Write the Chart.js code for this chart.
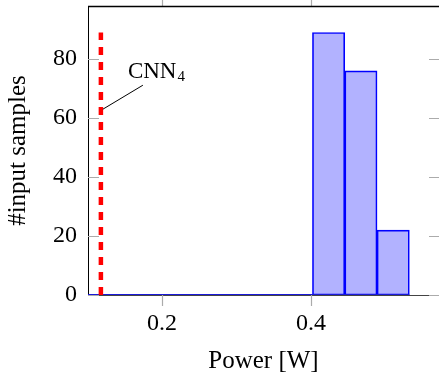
<!DOCTYPE html>
<html>
<head>
<meta charset="utf-8">
<script src="https://cdn.jsdelivr.net/npm/chart.js@4/dist/chart.umd.min.js"></script>
<style>
  html, body { margin: 0; padding: 0; background: #fff; overflow: hidden; }
  canvas { display: block; }
</style>
</head>
<body>
<canvas id="chart" width="439" height="382"></canvas>
<script>
// Histogram of per-sample power, with the CNN_4 reference marked as a dashed line.
const binCenters   = [0.120175, 0.163525, 0.206875, 0.250225, 0.293575, 0.336925, 0.380275, 0.423625, 0.466975, 0.510325];
const sampleCounts = [0, 0, 0, 0, 0, 0, 0, 89, 76, 22];
const binRange     = [0.0985, 0.532];   // first / last bin edge

const cnnPower     = 0.118;   // W
const cnnMarkerTop = 89;      // height of the dashed marker
const cnnPinAt     = 63;      // where the label pin touches the marker
const cnnLabel     = ['CNN', '4'];

const xTickValues = [0.2, 0.4];
const yTickValues = [0, 20, 40, 60, 80];
const xRange = [0.1007, 0.5718];
const yRange = [0, 98];

const SERIF = '"Liberation Serif", "Times New Roman", serif';
const TICK_GREY = '#ababab';

// pgfplots-like frame: top line plus short ticks on all sides
const frameTicks = {
  id: 'frameTicks',
  beforeDatasetsDraw(chart) {
    const { ctx, chartArea: a, scales: { x, y } } = chart;
    ctx.save();
    ctx.lineWidth = 1.2;
    ctx.strokeStyle = TICK_GREY;
    ctx.beginPath();
    y.ticks.forEach(t => {
      const py = Math.round(y.getPixelForValue(t.value)) + 0.5;
      ctx.moveTo(a.left, py);  ctx.lineTo(a.left + 11, py);
      ctx.moveTo(a.right - 10, py); ctx.lineTo(a.right + 2, py);
    });
    x.ticks.forEach(t => {
      const px = Math.round(x.getPixelForValue(t.value)) + 0.5;
      ctx.moveTo(px, a.bottom); ctx.lineTo(px, a.bottom + 11);
      ctx.moveTo(px, a.top);    ctx.lineTo(px, a.top - 10);
    });
    ctx.stroke();

    ctx.strokeStyle = '#000';
    ctx.lineWidth = 1.3;
    ctx.beginPath();
    ctx.moveTo(a.left, Math.round(a.top) + 0.5);
    ctx.lineTo(a.right + 2, Math.round(a.top) + 0.5);
    ctx.stroke();
    ctx.restore();
  },
};

// pin + label next to the dashed CNN marker
const cnnPin = {
  id: 'cnnPin',
  afterDatasetsDraw(chart) {
    const { ctx, scales: { x, y } } = chart;
    const px = x.getPixelForValue(cnnPower) + 2;
    const py = y.getPixelForValue(cnnPinAt);
    const ex = px + 40, ey = py - 24;
    ctx.save();
    ctx.strokeStyle = '#000';
    ctx.lineWidth = 1;
    ctx.beginPath();
    ctx.moveTo(px, py);
    ctx.lineTo(ex, ey);
    ctx.stroke();

    ctx.fillStyle = '#000';
    ctx.textBaseline = 'alphabetic';
    ctx.textAlign = 'left';
    ctx.font = '23px ' + SERIF;
    const tx = ex - 15, ty = ey - 7;
    ctx.fillText(cnnLabel[0], tx, ty);
    const w = ctx.measureText(cnnLabel[0]).width;
    ctx.font = '15px ' + SERIF;
    ctx.fillText(cnnLabel[1], tx + w + 1, ty + 3);
    ctx.restore();
  },
};

const noPad = s => { s.paddingTop = 0; s.paddingBottom = 0; s.paddingLeft = 0; s.paddingRight = 0; };

new Chart(document.getElementById('chart'), {
  type: 'bar',
  data: {
    datasets: [
      {
        label: 'samples',
        data: binCenters.map((c, i) => ({ x: c, y: sampleCounts[i] })),
        backgroundColor: 'rgba(0, 0, 255, 0.3)',
        borderColor: '#0000ff',
        borderWidth: 1,
        borderSkipped: false,
        barPercentage: 1,
        categoryPercentage: 1,
        order: 2,
      },
      {
        // zero-height bins collapse to a line along the axis
        type: 'line',
        label: 'base',
        data: binRange.map(v => ({ x: v, y: 0 })),
        borderColor: '#1a1ad8',
        borderWidth: 2,
        pointRadius: 0,
        order: 1,
      },
      {
        type: 'line',
        label: 'CNN4',
        data: [{ x: cnnPower, y: 0 }, { x: cnnPower, y: cnnMarkerTop }],
        borderColor: '#ff0000',
        borderWidth: 4.5,
        borderDash: [8, 7],
        pointRadius: 0,
        order: 0,
      },
    ],
  },
  options: {
    responsive: false,
    animation: false,
    devicePixelRatio: 1,
    layout: { padding: { top: 6, right: 0, left: 0, bottom: 0 } },
    plugins: { legend: { display: false }, tooltip: { enabled: false } },
    scales: {
      x: {
        type: 'linear',
        min: xRange[0],
        max: xRange[1],
        offset: false,
        afterBuildTicks: s => { s.ticks = xTickValues.map(v => ({ value: v })); },
        afterFit: s => { s.height = 87; noPad(s); },
        grid: { display: false, drawTicks: false, offset: false },
        border: { display: true, color: '#444', width: 1 },
        ticks: {
          padding: 14,
          color: '#000',
          font: { family: SERIF, size: 24 },
          callback: v => v.toFixed(1),
        },
        title: {
          display: true,
          text: 'Power [W]',
          color: '#000',
          font: { family: SERIF, size: 25 },
          padding: { top: 0, bottom: 6 },
        },
      },
      y: {
        min: yRange[0],
        max: yRange[1],
        afterBuildTicks: s => { s.ticks = yTickValues.map(v => ({ value: v })); },
        afterFit: s => { s.width = 88; noPad(s); },
        grid: { display: false, drawTicks: false },
        border: { display: true, color: '#000', width: 1 },
        ticks: {
          padding: 11,
          color: '#000',
          font: { family: SERIF, size: 24 },
          callback: v => String(v),
        },
        title: {
          display: true,
          text: '#input samples',
          color: '#000',
          font: { family: SERIF, size: 25 },
          padding: { top: 3, bottom: 0 },
        },
      },
    },
  },
  plugins: [frameTicks, cnnPin],
});
</script>
</body>
</html>
